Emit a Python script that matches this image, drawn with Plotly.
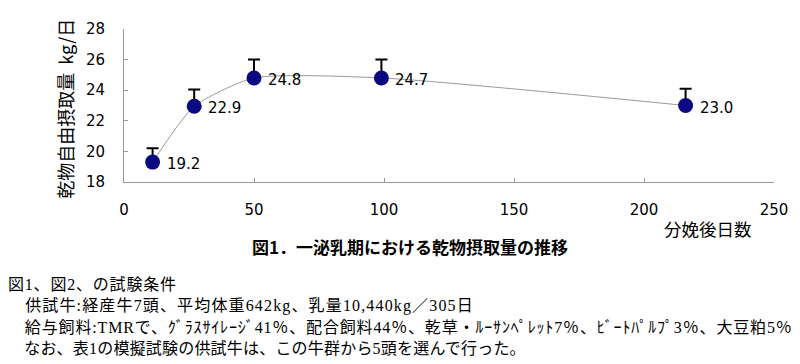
import plotly.graph_objects as go

# Data
days = [11, 27, 50, 99, 216]
dmi = [19.3, 22.95, 24.8, 24.8, 23.0]
dmi_labels = ["19.2", "22.9", "24.8", "24.7", "23.0"]
err_up = [0.9, 1.1, 1.2, 1.2, 1.1]
x_ticks = [0, 50, 100, 150, 200, 250]
y_ticks = [18, 20, 22, 24, 26, 28]

caption = "図1．一泌乳期における乾物摂取量の推移"
notes = [
    "図1、図2、の試験条件",
    "　供試牛:経産牛7頭、平均体重642kg、乳量10,440kg／305日",
    "　給与飼料:TMRで、ｸﾞﾗｽｻｲﾚｰｼﾞ41％、配合飼料44％、乾草・ﾙｰｻﾝﾍﾟﾚｯﾄ7％、ﾋﾞｰﾄﾊﾟﾙﾌﾟ3％、大豆粕5％",
    "　なお、表1の模擬試験の供試牛は、この牛群から5頭を選んで行った。",
]
note_spacing = [0.8, 1.15, 0.85, 0.2]

SANS = "Noto Sans CJK JP, DejaVu Sans, sans-serif"
NUM = "DejaVu Sans, sans-serif"
SERIF = "Liberation Serif, Noto Sans CJK JP, serif"

OFF = 8  # page body margin
W, H = 792, 356
ml, mr, mt, mb = 124 - OFF, 23, 26 - OFF, 182
pw = W - ml - mr
ph = H - mt - mb


def px_x(px):
    return (px - OFF - ml) / pw


def px_y(py):
    return (H - mb - (py - OFF)) / ph


fig = go.Figure()
fig.add_trace(go.Scatter(
    x=days, y=dmi, mode="lines+markers",
    line=dict(color="#9a9a9a", width=1, shape="spline", smoothing=0.6),
    marker=dict(size=15, color="#0a0a80"),
    error_y=dict(type="data", symmetric=False, array=err_up,
                 arrayminus=[0] * len(err_up), color="#000000",
                 thickness=2, width=6),
    showlegend=False, hoverinfo="skip",
))

for xv, yv, lab in zip(days, dmi, dmi_labels):
    fig.add_annotation(x=xv, y=yv, text=lab, showarrow=False,
                       xanchor="left", yanchor="middle", xshift=12, yshift=-2,
                       font=dict(family=NUM, size=15, color="#000"))

# y-axis title
fig.add_annotation(xref="paper", yref="paper", x=px_x(65), y=px_y(107),
                   text="乾物自由摂取量  kg/日", textangle=-90, showarrow=False,
                   xanchor="center", yanchor="middle",
                   font=dict(family=SANS, size=18, color="#000"))
# x-axis title
fig.add_annotation(xref="paper", yref="paper", x=px_x(711), y=px_y(229),
                   text="分娩後日数", showarrow=False, xanchor="center", yanchor="middle",
                   font=dict(family=SANS, size=17.5, color="#000"))
# caption
fig.add_annotation(xref="paper", yref="paper", x=px_x(411), y=px_y(248),
                   text="<b>" + caption + "</b>", showarrow=False, xanchor="center", yanchor="middle",
                   font=dict(family=SANS, size=17, color="#000"))
# notes
note_y = [286, 308, 330, 352]
for t, py, ls in zip(notes, note_y, note_spacing):
    txt = '<span style="letter-spacing:%spx">%s</span>' % (ls, t) if ls else t
    fig.add_annotation(xref="paper", yref="paper", x=px_x(5), y=px_y(py),
                       text=txt, showarrow=False, xanchor="left", yanchor="middle",
                       font=dict(family=SERIF, size=16, color="#000"))

fig.update_layout(
    width=W, height=H,
    margin=dict(l=ml, r=mr, t=mt, b=mb, pad=0),
    paper_bgcolor="white", plot_bgcolor="white",
    xaxis=dict(range=[0, 250], tickvals=x_ticks, showgrid=False, zeroline=False,
               showline=True, linecolor="#999999", linewidth=1,
               ticks="inside", ticklen=4, tickcolor="#999999",
               ticklabelstandoff=14,
               tickfont=dict(family=NUM, size=15, color="#000")),
    yaxis=dict(range=[18, 28], tickvals=y_ticks, showgrid=False, zeroline=False,
               showline=True, linecolor="#999999", linewidth=1,
               ticks="inside", ticklen=4, tickcolor="#999999",
               ticklabelstandoff=15,
               tickfont=dict(family=NUM, size=15, color="#000")),
)

fig.write_html("out.html")
